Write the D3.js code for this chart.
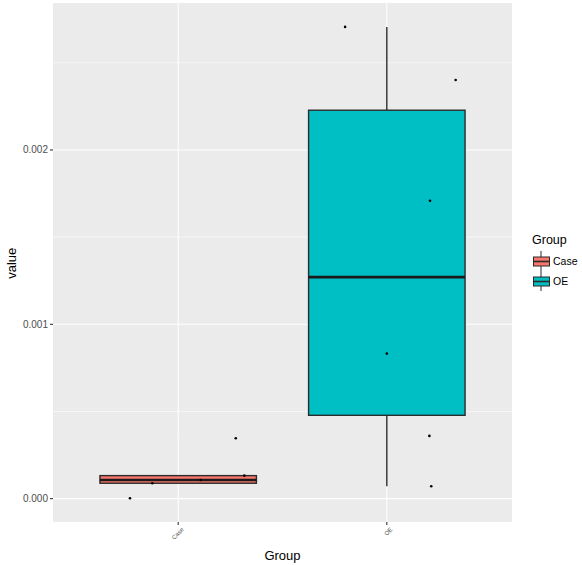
<!DOCTYPE html>
<html lang="en">
<head>
    <meta charset="UTF-8">
    <title>value by Group</title>
    <style>
        body {
            margin: 0;
            background: #fff;
            font-family: 'Liberation Sans', Arial, sans-serif;
        }
    </style>
    <script src="https://d3js.org/d3.v7.min.js"></script>
</head>
<body>
<div id="chart"></div>
<script>
    var width = 582;
    var height = 565;

    // Data
    var groups = ["Case", "OE"];
    var colors = ["#F8766D", "#00BFC4"];
    var caseValues = [0.000002, 0.0000883, 0.000107, 0.000132, 0.000346];
    var caseJitter = [-0.231, -0.124, 0.108, 0.317, 0.276];
    var oeValues = [0.002706, 0.002401, 0.001709, 0.000832, 0.000360, 0.0000711];
    var oeJitter = [-0.200, 0.330, 0.207, 0.0, 0.204, 0.213];
    var yTicks = [0, 0.001, 0.002];
    var yTickLabels = ["0.000", "0.001", "0.002"];
    var yMinor = [0.0005, 0.0015, 0.0025];

    var margin = {top: 3, right: 70, bottom: 43, left: 53};
    var panelW = width - margin.left - margin.right;   // 459
    var panelH = height - margin.top - margin.bottom;  // 519

    var svg = d3.select("#chart")
        .append("svg")
        .attr("width", width)
        .attr("height", height);

    var g = svg.append("g")
        .attr("transform", "translate(" + margin.left + "," + margin.top + ")");

    // discrete x: positions 1..2 with 0.6 expansion each side
    var x = d3.scaleLinear().domain([0.4, 2.6]).range([0, panelW]);
    var y = d3.scaleLinear().domain([-0.000134, 0.002843]).range([panelH, 0]);

    // panel background
    g.append("rect")
        .attr("width", panelW)
        .attr("height", panelH)
        .attr("fill", "#EBEBEB");

    // minor grid
    g.selectAll(".minor")
        .data(yMinor)
        .enter().append("line")
        .attr("x1", 0).attr("x2", panelW)
        .attr("y1", function(d) { return y(d); })
        .attr("y2", function(d) { return y(d); })
        .attr("stroke", "#fff").attr("stroke-width", 0.55);

    // major grid
    g.selectAll(".major")
        .data(yTicks)
        .enter().append("line")
        .attr("x1", 0).attr("x2", panelW)
        .attr("y1", function(d) { return y(d); })
        .attr("y2", function(d) { return y(d); })
        .attr("stroke", "#fff").attr("stroke-width", 1.1);

    g.selectAll(".vmajor")
        .data(groups)
        .enter().append("line")
        .attr("x1", function(d, i) { return x(i + 1); })
        .attr("x2", function(d, i) { return x(i + 1); })
        .attr("y1", 0).attr("y2", panelH)
        .attr("stroke", "#fff").attr("stroke-width", 1.1);

    // box stats (type 7 quantiles, like R)
    function boxStats(values) {
        var s = values.slice().sort(d3.ascending);
        var q1 = d3.quantile(s, 0.25), med = d3.quantile(s, 0.5), q3 = d3.quantile(s, 0.75);
        var iqr = q3 - q1;
        var inside = s.filter(function(v) { return v >= q1 - 1.5 * iqr && v <= q3 + 1.5 * iqr; });
        return {
            q1: q1, med: med, q3: q3,
            lo: d3.min(inside), hi: d3.max(inside),
            out: s.filter(function(v) { return v < q1 - 1.5 * iqr || v > q3 + 1.5 * iqr; })
        };
    }

    var series = [
        {name: groups[0], values: caseValues, jitter: caseJitter, color: colors[0]},
        {name: groups[1], values: oeValues, jitter: oeJitter, color: colors[1]}
    ];

    var halfBox = 0.375;
    var outline = "#2b2b2b";

    series.forEach(function(s, i) {
        var st = boxStats(s.values);
        var cx = x(i + 1);

        // whiskers
        g.append("line")
            .attr("x1", cx).attr("x2", cx)
            .attr("y1", y(st.q3)).attr("y2", y(st.hi))
            .attr("stroke", outline).attr("stroke-width", 1.4);
        g.append("line")
            .attr("x1", cx).attr("x2", cx)
            .attr("y1", y(st.q1)).attr("y2", y(st.lo))
            .attr("stroke", outline).attr("stroke-width", 1.4);

        // box
        g.append("rect")
            .attr("x", x(i + 1 - halfBox))
            .attr("width", x(i + 1 + halfBox) - x(i + 1 - halfBox))
            .attr("y", y(st.q3))
            .attr("height", y(st.q1) - y(st.q3))
            .attr("fill", s.color)
            .attr("stroke", outline).attr("stroke-width", 1.4);

        // median
        g.append("line")
            .attr("x1", x(i + 1 - halfBox)).attr("x2", x(i + 1 + halfBox))
            .attr("y1", y(st.med)).attr("y2", y(st.med))
            .attr("stroke", "#1a1a1a").attr("stroke-width", 2.6);

        // outliers (drawn faint)
        g.selectAll(".out" + i)
            .data(st.out)
            .enter().append("circle")
            .attr("cx", cx)
            .attr("cy", function(d) { return y(d); })
            .attr("r", 1.2)
            .attr("fill", "#f7f7f7");

        // jittered points
        g.selectAll(".pt" + i)
            .data(s.values)
            .enter().append("circle")
            .attr("cx", function(d, j) { return x(i + 1 + s.jitter[j]); })
            .attr("cy", function(d) { return y(d); })
            .attr("r", 1.3)
            .attr("fill", "#000");
    });

    // y axis
    var yAxis = g.append("g");
    yTicks.forEach(function(t, i) {
        yAxis.append("line")
            .attr("x1", -3).attr("x2", 0)
            .attr("y1", y(t)).attr("y2", y(t))
            .attr("stroke", "#333").attr("stroke-width", 1.1);
        yAxis.append("text")
            .attr("x", -5).attr("y", y(t))
            .attr("dy", "0.35em")
            .attr("text-anchor", "end")
            .attr("font-size", 10)
            .attr("fill", "#4D4D4D")
            .text(yTickLabels[i]);
    });

    // x axis
    groups.forEach(function(name, i) {
        var cx = x(i + 1);
        g.append("line")
            .attr("x1", cx).attr("x2", cx)
            .attr("y1", panelH).attr("y2", panelH + 3)
            .attr("stroke", "#333").attr("stroke-width", 1.1);
        g.append("text")
            .attr("transform", "translate(" + (cx + 3) + "," + (panelH + 5) + ") rotate(-45)")
            .attr("text-anchor", "end")
            .attr("dy", "0.7em")
            .attr("font-size", 6)
            .attr("fill", "#4D4D4D")
            .text(name);
    });

    // axis titles
    svg.append("text")
        .attr("x", margin.left + panelW / 2)
        .attr("y", 560)
        .attr("text-anchor", "middle")
        .attr("font-size", 13)
        .attr("fill", "#000")
        .text("Group");

    svg.append("text")
        .attr("transform", "translate(16," + (margin.top + y(0.00135)) + ") rotate(-90)")
        .attr("text-anchor", "middle")
        .attr("font-size", 13)
        .attr("fill", "#000")
        .text("value");

    // legend
    var legend = svg.append("g").attr("transform", "translate(532,230)");
    legend.append("text")
        .attr("x", 0).attr("y", 14)
        .attr("font-size", 12.5)
        .attr("fill", "#000")
        .text("Group");

    series.forEach(function(s, i) {
        var ky = 20 + i * 20;
        var kg = legend.append("g").attr("transform", "translate(0," + ky + ")");
        kg.append("line")
            .attr("x1", 9).attr("x2", 9).attr("y1", 1).attr("y2", 21)
            .attr("stroke", outline).attr("stroke-width", 1);
        kg.append("rect")
            .attr("x", 1.5).attr("y", 7).attr("width", 16).attr("height", 9)
            .attr("fill", s.color)
            .attr("stroke", outline).attr("stroke-width", 1);
        kg.append("line")
            .attr("x1", 1.5).attr("x2", 17.5).attr("y1", 11.5).attr("y2", 11.5)
            .attr("stroke", outline).attr("stroke-width", 1.6);
        kg.append("text")
            .attr("x", 21).attr("y", 11.5)
            .attr("dy", "0.35em")
            .attr("font-size", 10.5)
            .attr("fill", "#000")
            .text(s.name);
    });
</script>
</body>
</html>
